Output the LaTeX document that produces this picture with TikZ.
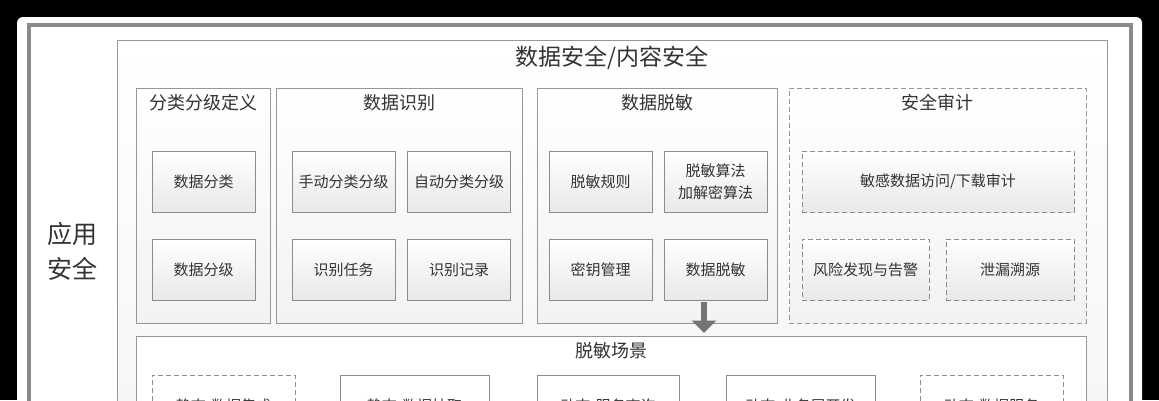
\documentclass[tikz,border=0pt]{standalone}
\usepackage{fontspec}
\setmainfont{Noto Sans CJK SC}
\usepackage{tikz}
\usetikzlibrary{arrows.meta}
\usetikzlibrary{positioning}
\definecolor{txt}{HTML}{333333}
\definecolor{edge}{HTML}{8C8C8C}
\definecolor{frame}{HTML}{8A8A8A}
\definecolor{arrowgray}{HTML}{747474}
\tikzset{item/.style={rectangle,draw=edge,line width=0.8pt,top color=white,bottom color=black!9,minimum width=103,minimum height=61,inner sep=1pt,font=\fontsize{15}{22}\selectfont,text=txt,align=center}}
\tikzset{itemd/.style={item,dash pattern=on 5pt off 3pt}}
\tikzset{group/.style={rectangle,draw=edge!90,line width=0.8pt,top color=white,bottom color=black!5,inner sep=0pt,anchor=north west,minimum height=235}}
\tikzset{groupd/.style={group,dash pattern=on 5pt off 3pt}}
\tikzset{grouptitle/.style={font=\fontsize{18}{22}\selectfont,text=txt,inner sep=0pt}}

\begin{document}
\begin{tikzpicture}[x=1pt,y=-1pt]
\useasboundingbox (0,0) rectangle (1159,400);
\clip (0,0) rectangle (1159,400);
\fill[black] (0,0) rectangle (1159,400);
\fill[white,rounded corners=6pt] (17,17) rectangle (1142,460);
\draw[frame,line width=4pt,fill=white] (29,25) rectangle (1131,460);

% outer box
\node (main) [rectangle,draw=edge!90,line width=0.8pt,top color=white,bottom color=black!4,anchor=north west,minimum width=990,minimum height=420] at (117,40) {};
\node (maintitle) [font=\fontsize{23}{27}\selectfont,text=txt,inner sep=0pt] at ([yshift=-18pt]main.north) {数据安全/内容安全};
\node (app) [font=\fontsize{25}{35}\selectfont,text=txt,align=center] at (72,251) {应用\\安全};

% groups
\node (g1) [group,minimum width=134] at (136,88) {};
\node (g2) [group,minimum width=246] at (276,88) {};
\node (g3) [group,minimum width=240] at (537,88) {};
\node (g4) [groupd,minimum width=297] at (789,88) {};
\node [grouptitle] at ([yshift=-15pt]g1.north) {分类分级定义};
\node [grouptitle] at ([yshift=-15pt]g2.north) {数据识别};
\node [grouptitle] at ([yshift=-15pt]g3.north) {数据脱敏};
\node [grouptitle] at ([yshift=-15pt]g4.north) {安全审计};

\foreach \n/\x/\y/\t in {c1/203.5/181.5/数据分类, c2/203.5/269.5/数据分级,
	r1/343.5/181.5/手动分类分级, r2/459/181.5/自动分类分级,
	r3/343.5/269.5/识别任务, r4/459/269.5/识别记录,
	m1/600.5/181.5/脱敏规则, m2/715.5/181.5/{脱敏算法\\加解密算法},
	m3/600.5/269.5/密钥管理, m4/715.5/269.5/数据脱敏} {
	\node (\n) [item] at (\x,\y) {\t};
}
\node (a1) [itemd,minimum width=272] at (938,181.5) {敏感数据访问/下载审计};
\node (a2) [itemd,minimum width=127] at (865.5,269.5) {风险发现与告警};
\node (a3) [itemd,minimum width=128] at (1010,269.5) {泄漏溯源};

% scenes
\node (scene) [rectangle,draw=edge!90,line width=0.8pt,fill=white,anchor=north west,minimum width=950,minimum height=130] at (136,336) {};
\node [grouptitle] at ([yshift=-15pt]scene.north) {脱敏场景};
\foreach \n/\x/\w/\t in {s2/414.5/149/静态-数据抽取, s3/608/142/动态-服务查询, s4/800.5/149/动态-业务层开发} {
	\node (\n) [item,fill=white,top color=white,bottom color=white,minimum width=\w] at (\x,405.5) {\t};
}
\foreach \n/\x/\t in {s1/223.5/静态-数据集成, s5/991.5/动态-数据服务} {
	\node (\n) [itemd,top color=white,bottom color=white,minimum width=143] at (\x,405.5) {\t};
}

\coordinate (down) at ([xshift=-11.5pt]m4.south);
\draw[arrowgray,line width=5.3pt,-{Triangle[width=24pt,length=12.5pt]},shorten <=2pt,shorten >=3pt] (down) -- (down |- scene.north);

\end{tikzpicture}
\end{document}
